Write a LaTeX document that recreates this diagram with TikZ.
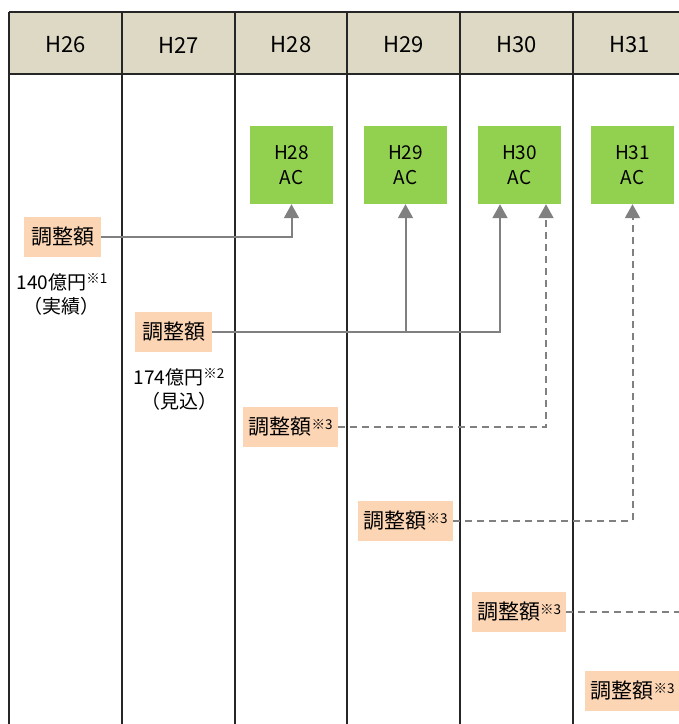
\documentclass[tikz,border=0pt]{standalone}
\usepackage{fontspec}
\setmainfont{Noto Sans CJK JP}
\usetikzlibrary{arrows.meta}
\definecolor{hdr}{HTML}{DDD9C4}
\definecolor{grn}{HTML}{92D050}
\definecolor{peach}{HTML}{FCD5B5}
\definecolor{conn}{HTML}{808080}
\newcommand\komeref[1]{\raisebox{0.5ex}{\fontsize{13.5}{13.5}\selectfont ※#1}}
\begin{document}
\begin{tikzpicture}[x=1pt,y=-1pt,
  ac/.style={fill=grn, minimum width=83pt, minimum height=78pt, inner sep=0pt, align=center, font=\fontsize{19}{25}\selectfont},
  adj/.style={fill=peach, minimum height=40pt, inner sep=0pt, font=\fontsize{21}{24}\selectfont},
  hlab/.style={font=\fontsize{22}{24}\selectfont},
  note/.style={align=center, font=\fontsize{19}{24}\selectfont},
  line/.style={draw=conn, line width=2pt},
  link/.style={line, -{Triangle[width=15pt,length=14pt]}},
  dline/.style={line, dash pattern=on 7pt off 5pt},
  dlink/.style={link, dash pattern=on 7pt off 5pt},
  gridline/.style={line width=1.2pt, draw=black!85}]
\useasboundingbox (0,0) rectangle (679,724);
\begin{scope}
\clip (0,0) rectangle (679,724);
% header
\fill[hdr] (9,12) rectangle (690,74);
\draw[gridline] (9,12) -- (690,12) (9,74) -- (690,74);
\foreach \x in {9,122,235,347,460,573}
  \draw[gridline] (\x,12) -- (\x,730);
\node[hlab] (h26) at (65.5,45) {H26};
\node[hlab] (h27) at (178.5,45) {H27};
\node[hlab] (h28) at (291,45) {H28};
\node[hlab] (h29) at (403.5,45) {H29};
\node[hlab] (h30) at (516.5,45) {H30};
\node[hlab] (h31) at (629.5,45) {H31};
% AC boxes
\node[ac] (g28) at (291.5,165) {H28\\AC};
\node[ac] (g29) at (405.5,165) {H29\\AC};
\node[ac] (g30) at (519.5,165) {H30\\AC};
\node[ac] (g31) at (632.5,165) {H31\\AC};
% adjustment boxes
\node[adj, minimum width=77pt] (o1) at (62.5,237) {調整額};
\node[adj, minimum width=77pt] (o2) at (173.5,332) {調整額};
\node[adj, minimum width=95pt] (o3) at (290.5,427) {調整額\komeref{3}};
\node[adj, minimum width=95pt] (o4) at (405.5,521) {調整額\komeref{3}};
\node[adj, minimum width=94pt] (o5) at (519,612) {調整額\komeref{3}};
\node[adj, minimum width=95pt] (o6) at (632.5,691) {調整額\komeref{3}};
% notes
\node[note] (n1) at (62,294) {140億円\komeref{1}\\（実績）};
\node[note] (n2) at (179,389) {174億円\komeref{2}\\（見込）};
% connectors
\draw[link] (o1.east) -| (g28.south);
\draw[link] (o2.east) -| ([xshift=-19.5pt]g30.south);
\draw[link] (g29.south |- o2.east) -- (g29.south);
\draw[dlink] (o3.east) -| ([xshift=26.5pt]g30.south);
\draw[dlink] (o4.east) -| (g31.south);
\coordinate (e5) at (685,612);
\draw[dline] (o5.east) -- (e5);
\end{scope}
\end{tikzpicture}
\end{document}
